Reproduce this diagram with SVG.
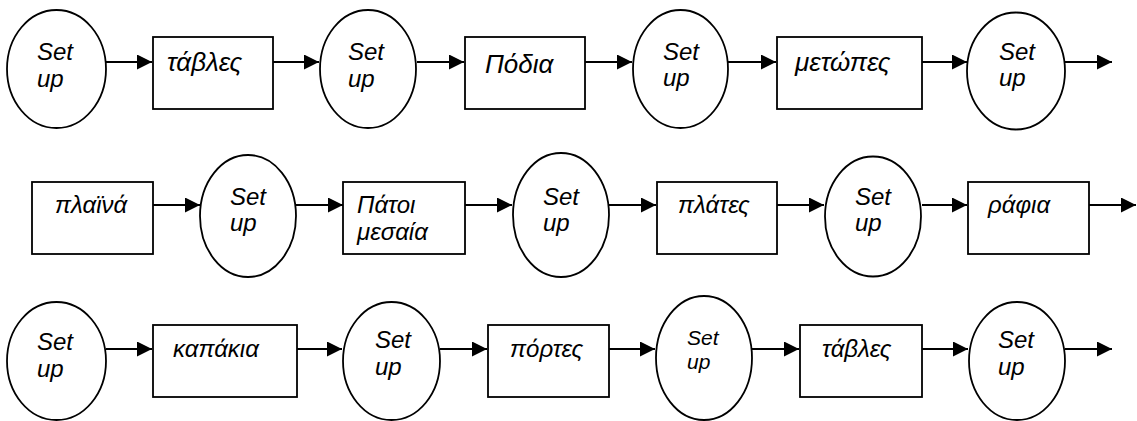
<svg xmlns="http://www.w3.org/2000/svg" width="1137" height="421" viewBox="0 0 1137 421">
<style>
.n{fill:#fff;stroke:#000;stroke-width:1.8}
.t{font-family:"Liberation Sans",Arial,sans-serif;font-style:italic;font-size:24px;fill:#000}
.c line{stroke:#000;stroke-width:2;marker-end:url(#ah)}
</style>
<defs>
<marker id="ah" markerUnits="userSpaceOnUse" markerWidth="16" markerHeight="16" refX="15" refY="7.5" orient="auto">
<path d="M0,0 L15,7.5 L0,15 z" fill="#000"/>
</marker>
</defs>
<rect width="1137" height="421" fill="#fff"/>
<g class="c" id="connectors">
<line x1="106" y1="62" x2="152" y2="62"/>
<line x1="273" y1="62" x2="319" y2="62"/>
<line x1="417" y1="62" x2="464" y2="62"/>
<line x1="585" y1="62" x2="632" y2="62"/>
<line x1="728" y1="62" x2="776" y2="62"/>
<line x1="922" y1="62" x2="967" y2="62"/>
<line x1="1065" y1="62" x2="1112" y2="62"/>
<line x1="153" y1="205" x2="200" y2="205"/>
<line x1="296" y1="205" x2="343" y2="205"/>
<line x1="465" y1="205" x2="512" y2="205"/>
<line x1="609" y1="205" x2="656" y2="205"/>
<line x1="777" y1="205" x2="824" y2="205"/>
<line x1="922" y1="205" x2="967" y2="205"/>
<line x1="1089" y1="205" x2="1136" y2="205"/>
<line x1="106" y1="349" x2="152" y2="349"/>
<line x1="297" y1="349" x2="342" y2="349"/>
<line x1="440" y1="349" x2="487" y2="349"/>
<line x1="609" y1="349" x2="655" y2="349"/>
<line x1="752" y1="349" x2="799" y2="349"/>
<line x1="922" y1="349" x2="968" y2="349"/>
<line x1="1065" y1="349" x2="1112" y2="349"/>
</g>
<g id="e1"><ellipse class="n" cx="56.5" cy="69" rx="49.5" ry="59"/><text class="t" x="37" y="60">Set</text><text class="t" x="37" y="87">up</text></g>
<g id="r1"><rect class="n" x="153" y="37" width="120" height="72"/><text class="t" x="167" y="71" style="font-size:26px">τάβλες</text></g>
<g id="e2"><ellipse class="n" cx="368" cy="69" rx="48" ry="59"/><text class="t" x="348" y="60">Set</text><text class="t" x="348" y="87">up</text></g>
<g id="r2"><rect class="n" x="465" y="37" width="120" height="72"/><text class="t" x="485" y="73" style="font-size:26px">Πόδια</text></g>
<g id="e3"><ellipse class="n" cx="680.5" cy="69" rx="47.5" ry="59"/><text class="t" x="663" y="60">Set</text><text class="t" x="663" y="86">up</text></g>
<g id="r3"><rect class="n" x="777" y="37" width="145" height="72"/><text class="t" x="795" y="71" style="font-size:26px">μετώπες</text></g>
<g id="e4"><ellipse class="n" cx="1016" cy="71" rx="49" ry="58.5"/><text class="t" x="999" y="60">Set</text><text class="t" x="999" y="86">up</text></g>
<g id="r4"><rect class="n" x="32" y="182" width="121" height="72"/><text class="t" x="55" y="213">πλαϊνά</text></g>
<g id="e5"><ellipse class="n" cx="248" cy="216" rx="48" ry="61"/><text class="t" x="230" y="205">Set</text><text class="t" x="230" y="231">up</text></g>
<g id="r5"><rect class="n" x="343" y="182" width="122" height="72"/><text class="t" x="357" y="213">Πάτοι</text><text class="t" x="357" y="240">μεσαία</text></g>
<g id="e6"><ellipse class="n" cx="561" cy="215" rx="48" ry="62"/><text class="t" x="543" y="205">Set</text><text class="t" x="543" y="231">up</text></g>
<g id="r6"><rect class="n" x="657" y="182" width="120" height="72"/><text class="t" x="678" y="213">πλάτες</text></g>
<g id="e7"><ellipse class="n" cx="873" cy="216.5" rx="48" ry="60"/><text class="t" x="855" y="205">Set</text><text class="t" x="855" y="231">up</text></g>
<g id="r7"><rect class="n" x="968" y="182" width="121" height="72"/><text class="t" x="988" y="213">ράφια</text></g>
<g id="e8"><ellipse class="n" cx="56.5" cy="361" rx="49.5" ry="59"/><text class="t" x="37" y="350">Set</text><text class="t" x="37" y="377">up</text></g>
<g id="r8"><rect class="n" x="153" y="325" width="144" height="72"/><text class="t" x="173" y="357">καπάκια</text></g>
<g id="e9"><ellipse class="n" cx="391.5" cy="361" rx="48.5" ry="59"/><text class="t" x="375" y="348">Set</text><text class="t" x="375" y="375">up</text></g>
<g id="r9"><rect class="n" x="488" y="325" width="121" height="72"/><text class="t" x="510" y="357">πόρτες</text></g>
<g id="e10"><ellipse class="n" cx="704" cy="358" rx="48" ry="62"/><text class="t" x="687" y="345" style="font-size:21px">Set</text><text class="t" x="687" y="369" style="font-size:21px">up</text></g>
<g id="r10"><rect class="n" x="800" y="325" width="122" height="72"/><text class="t" x="822" y="357">τάβλες</text></g>
<g id="e11"><ellipse class="n" cx="1017" cy="361" rx="48" ry="59"/><text class="t" x="998" y="348">Set</text><text class="t" x="998" y="375">up</text></g>
</svg>
